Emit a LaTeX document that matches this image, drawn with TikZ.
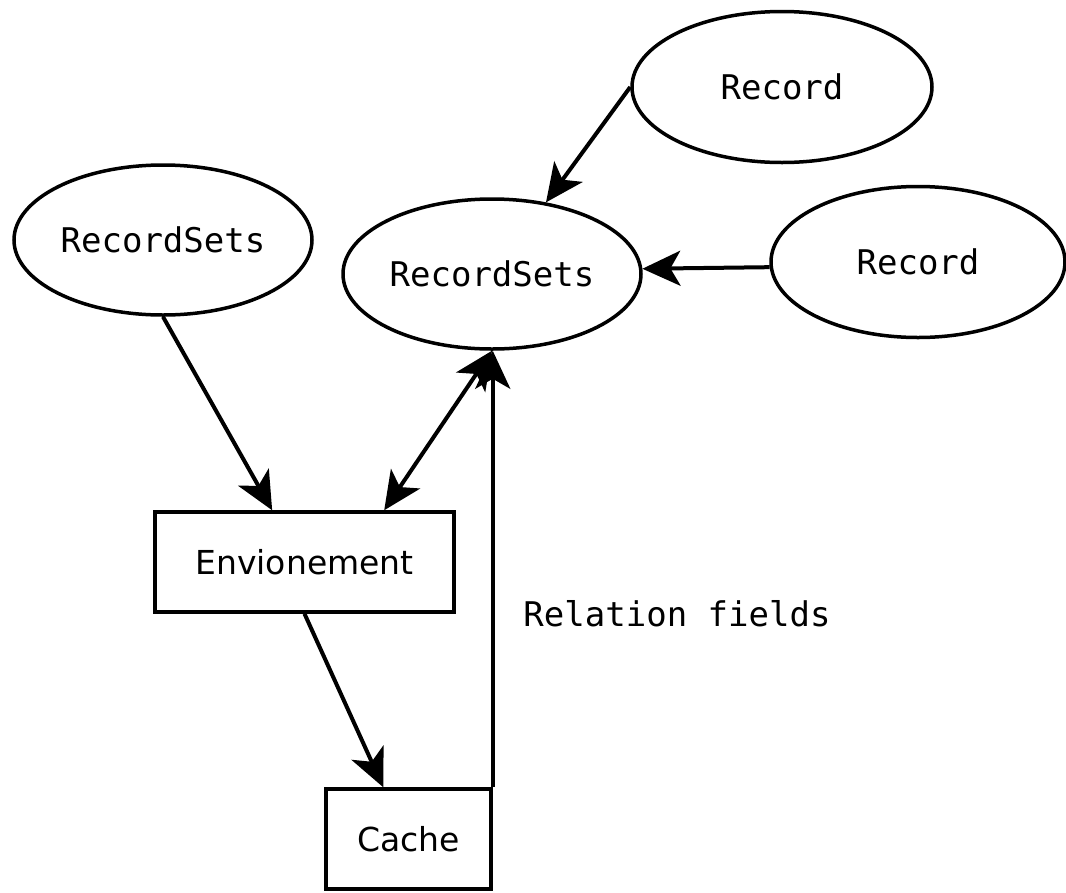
\documentclass[tikz,border=0pt]{standalone}
\usepackage{fontspec}
\setmonofont{DejaVu Sans Mono}
\setsansfont{DejaVu Sans}
\usetikzlibrary{shapes.geometric,arrows.meta}
\begin{document}
\begin{tikzpicture}[x=1pt,y=-1pt,
  every node/.style={inner sep=0pt},
  ell/.style={draw, ellipse, line width=3.5pt, minimum width=300pt, minimum height=151pt,
    font=\ttfamily\fontsize{34}{40}\selectfont},
  boxn/.style={draw, rectangle, line width=3.5pt, font=\sffamily\fontsize{33}{40}\selectfont},
  conn/.style={line width=4pt, -{Stealth[length=38pt,width=35pt,inset=10pt]}},
  biconn/.style={line width=4pt, {Stealth[length=38pt,width=35pt,inset=10pt]}-{Stealth[length=38pt,width=35pt,inset=10pt]}},
  lbl/.style={font=\ttfamily\fontsize{34}{40}\selectfont}
]
\useasboundingbox (0,0) rectangle (1066,892);
\node[ell] (rec1) at (782,87) {Record};
\node[ell, minimum width=294pt] (rec2) at (918,262) {Record};
\node[ell, minimum width=298pt, minimum height=150pt] (rs2) at (492,274) {RecordSets};
\node[ell, minimum width=298pt, minimum height=150pt] (rs1) at (163,240) {RecordSets};
\node[boxn, minimum width=299pt, minimum height=100pt] (env) at (304.5,562) {Envionement};
\node[boxn, minimum width=165pt, minimum height=100pt] (cache) at (408.5,839) {Cache};
\node[lbl] (rel) at (677,614) {Relation fields};

\draw[conn] (rec1.west) -- (rs2.53);
\draw[conn] (rec2.182) -- (rs2.2);
\draw[conn] (rs1.south) -- (env.122);
\draw[biconn] (rs2.south) -- (env.33.5);
\draw[conn] (env.south) -- (cache.116);
\draw[conn] (cache.north east) -- (cache.north east |- rs2.south);
\end{tikzpicture}
\end{document}
